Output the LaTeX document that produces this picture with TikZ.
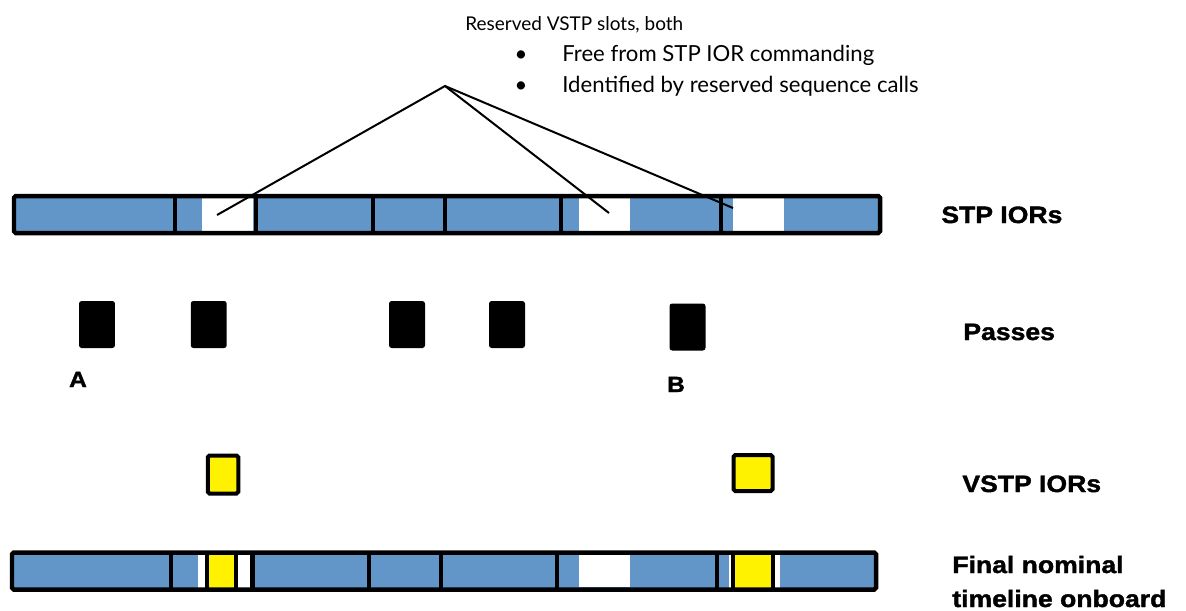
\documentclass[tikz,border=0pt]{standalone}
\usepackage{fontspec}
\setmainfont{Lato}
\newfontfamily\headfont[FakeStretch=1.12, FakeBold=1.6]{Liberation Sans}
\usepackage{tikz}
\usetikzlibrary{positioning}

\definecolor{barblue}{RGB}{98,150,201}

\begin{document}
\begin{tikzpicture}[
    x=0.02cm, y=-0.02cm,
    bar/.style={line width=0.09cm},
    slot/.style={rectangle, fill=white, inner sep=0pt, minimum width=1.02cm, minimum height=0.66cm},
    pass/.style={rectangle, fill=black, rounded corners=1.5pt, inner sep=0pt, minimum width=0.72cm, minimum height=0.94cm},
    vstp/.style={rectangle, draw, fill=yellow, line width=0.08cm, rounded corners=1pt, inner sep=0pt},
    head/.style={font=\headfont\bfseries\fontsize{13.5}{16}\selectfont, anchor=base west, inner sep=0pt},
    note/.style={font=\fontsize{10.8}{12}\selectfont, anchor=base west, inner sep=0pt},
    item/.style={font=\fontsize{12.6}{14}\selectfont, anchor=base west, inner sep=0pt}
]
\useasboundingbox (0,0) rectangle (1186,610);

% === Callout text ===
\node[note] (title) at (465,30) {Reserved VSTP slots, both};
\node[item, anchor=base] (b1) at (521,61) {\textbullet};
\node[item] (t1) at (562,61) {Free from STP IOR commanding};
\node[item, anchor=base] (b2) at (521,92) {\textbullet};
\node[item] (t2) at (562,92) {Identified by reserved sequence calls};

% === STP IORs bar ===
\fill[barblue] (14,196) rectangle (880,233);
\node[slot] (s1) at (227.5,214.5) {};
\node[slot] (s2) at (604.5,214.5) {};
\node[slot] (s3) at (758.5,214.5) {};
\foreach \x in {175,256,373,445,561,721}
    \draw[bar] (\x,196) -- (\x,233);
\draw[bar, rounded corners=1pt] (14,196) rectangle (880,233);
\node[head] (stp) at (941,223) {STP IORs};

% Lines from the callout to the reserved slots
\coordinate (apex) at (445,86);
\coordinate (e1) at (217,215);
\coordinate (e2) at (609,213);
\coordinate (e3) at (733,208);
\draw[line width=0.04cm] (e1) -- (apex) -- (e2);
\draw[line width=0.04cm] (apex) -- (e3);

% === Passes ===
\node[pass] (p1) at (97,324.5) {};
\node[pass] (p2) at (208.75,324.5) {};
\node[pass] (p3) at (407,324.5) {};
\node[pass] (p4) at (507,324.5) {};
\node[pass] (p5) at (687.5,327) {};
\node[head, font=\headfont\bfseries\fontsize{12.5}{15}\selectfont, anchor=base] (A) at (78,387) {A};
\node[head, font=\headfont\bfseries\fontsize{12.5}{15}\selectfont, anchor=base] (B) at (676,392) {B};
\node[head] (passes) at (963,340) {Passes};

% === VSTP IORs ===
\node[vstp, minimum width=0.61cm, minimum height=0.76cm] (v1) at (223,474.5) {};
\node[vstp, minimum width=0.78cm, minimum height=0.72cm] (v2) at (753,473) {};
\node[head] (vstplab) at (962,492) {VSTP IORs};

% === Final timeline bar ===
\fill[barblue] (12,552.5) rectangle (876,589.5);
\fill[white] (198,552.5) rectangle (250,589.5);
\fill[white] (728.5,552.5) rectangle (780,589.5);
\fill[white] (579,555) rectangle (630,587);
\foreach \x in {171,252.6,369,441,557,717}
    \draw[bar] (\x,552.5) -- (\x,589.5);
\node[vstp, rounded corners=0pt, minimum width=0.58cm, minimum height=0.74cm] (f1) at (221,571) {};
\node[vstp, rounded corners=0pt, minimum width=0.79cm, minimum height=0.74cm] (f2) at (752.75,571) {};
\draw[bar, rounded corners=1pt] (12,552.5) rectangle (876,589.5);
\node[head] (final1) at (952,573) {Final nominal};
\node[head] (final2) at (952,607) {timeline onboard};
\end{tikzpicture}
\end{document}
